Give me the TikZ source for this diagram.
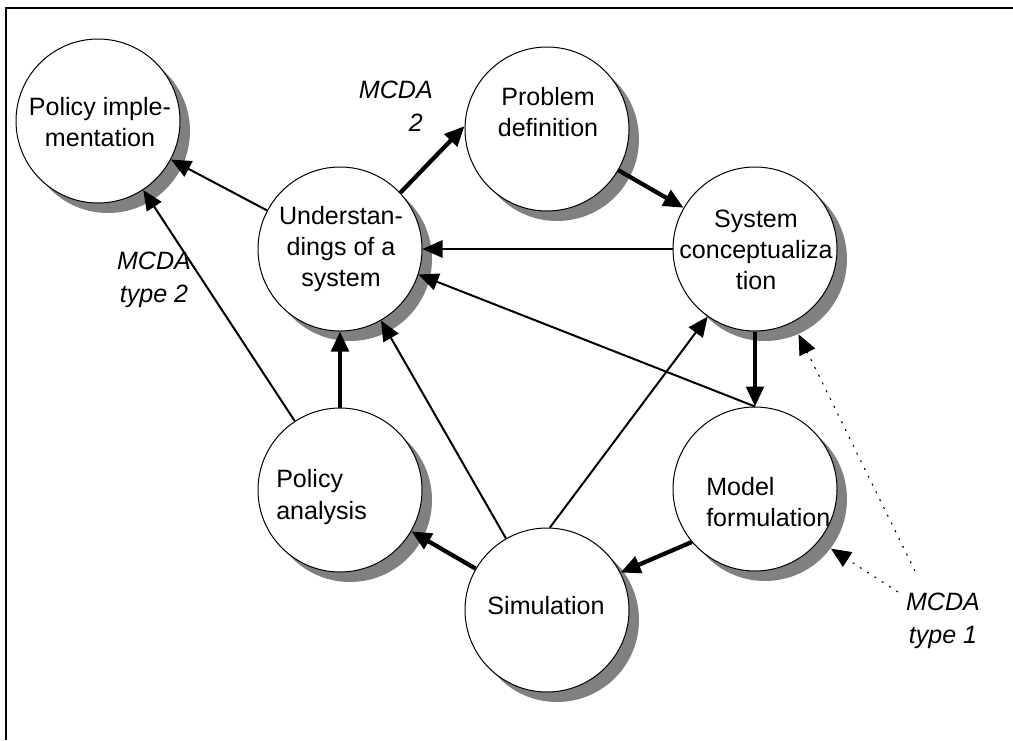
\documentclass[tikz,border=0pt]{standalone}
\usepackage{fontspec}
\setmainfont{Liberation Sans}
\usetikzlibrary{arrows.meta,shadows}
\definecolor{shadowgray}{RGB}{128,128,128}
\begin{document}
\begin{tikzpicture}[x=0.75pt,y=-0.75pt,
  bubble/.style={circle,draw,line width=0.75pt,fill=white,minimum size=123pt,inner sep=0pt,
    drop shadow={shadow xshift=7.5pt,shadow yshift=-7.5pt,fill=shadowgray,opacity=1}},
  bubbletext/.style={align=center,inner sep=0pt,font=\fontsize{18.8}{23.3}\selectfont},
  leftbubbletext/.style={bubbletext,align=left,anchor=west},
  mcda/.style={bubbletext,font=\fontsize{18.8}{25}\selectfont\itshape},
  tip/.style={-{Triangle[length=15pt,width=13pt]}},
  thinarrow/.style={tip,line width=1.5pt},
  thickarrow/.style={tip,line width=3.2pt},
  dottedarrow/.style={tip,line width=0.8pt,dash pattern=on 1.5pt off 5pt},
  frameline/.style={line width=1.7pt}
]
\useasboundingbox (0,0) rectangle (1013,740);

% outer frame (top and left edges)
\coordinate (fbl) at (6,740);
\coordinate (ftl) at (6,8);
\coordinate (ftr) at (1013,8);
\draw[frameline] (fbl) -- (ftl) -- (ftr);

% process bubbles
\node[bubble] (pimpl) at (98,121) {};
\node[bubble] (und)   at (340,249) {};
\node[bubble] (pdef)  at (547,129) {};
\node[bubble] (sysc)  at (755,249) {};
\node[bubble] (mf)    at (755,489) {};
\node[bubble] (pa)    at (340,490) {};
\node[bubble] (sim)   at (547,610) {};

% bubble captions
\node[bubbletext] (pimpl-t) at (100,122) {Policy imple-\\mentation};
\node[bubbletext] (und-t)   at (341,249) {Understan-\\dings of a\\system};
\node[bubbletext] (pdef-t)  at (548,112) {Problem\\definition};
\node[bubbletext] (sysc-t)  at (756,250) {System\\conceptualiza\\tion};
\node[leftbubbletext] (mf-t) at (706,502) {Model\\formulation};
\node[leftbubbletext] (pa-t) at (276,497) {Policy\\analysis};
\node[bubbletext] (sim-t)   at (546,606) {Simulation};

% MCDA annotations
\node[mcda,align=right,anchor=east] (mcda2) at (433,106) {MCDA\\2\hspace*{0.4em}};
\node[mcda] (mcdat2) at (154,280) {MCDA\\type 2};
\node[mcda] (mcdat1) at (943,621) {MCDA\\type 1};

% connectors
\draw[thinarrow]  (und) -- (pimpl);
\draw[thinarrow]  (pa) -- (pimpl);
\draw[thickarrow] (und.43) -- (pdef.178);
\draw[thickarrow] (pdef.-30) -- (sysc.150);
\draw[thinarrow]  (sysc.180) -- (und.0);
\draw[thinarrow]  (mf.90) -- (und.-18);
\draw[thickarrow] (sysc.270) -- (mf.90);
\draw[thinarrow]  (sim) -- (und);
\draw[thinarrow]  (sim.88) -- (sysc.235);
\draw[thickarrow] (pa.90) -- (und.270);
\draw[thickarrow] (sim) -- (pa);
\draw[thickarrow] (mf.220) -- (sim.27);

% dotted pointers from the MCDA type 1 note
\coordinate (d1) at (915,571);
\coordinate (d2) at (898,592);
\draw[dottedarrow] (d1) -- ([shift={(10,10)}]sysc.294);
\draw[dottedarrow] (d2) -- ([shift={(10,10)}]mf.323);
\end{tikzpicture}
\end{document}
